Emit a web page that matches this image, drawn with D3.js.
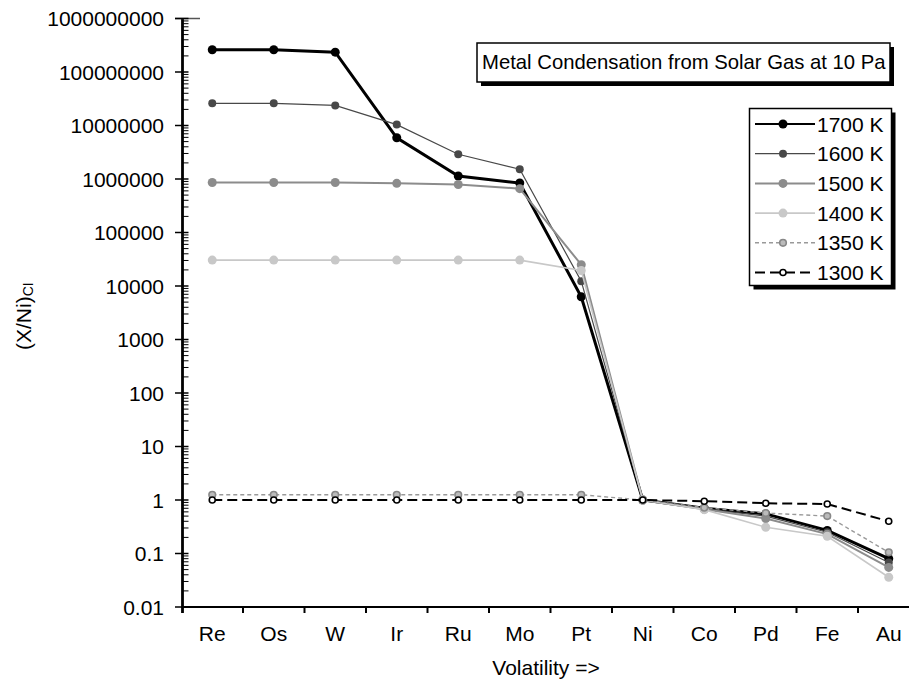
<!DOCTYPE html>
<html lang="en">
<head>
    <meta charset="UTF-8">
    <title>metal condensation</title>
    <script src="https://d3js.org/d3.v7.min.js"></script>
<style>
    body{ margin:0; background:#fff; }
    text{ font-family: "Liberation Sans", Arial, sans-serif; font-size: 21px; fill:#000; }
    .title{ font-size: 20.3px; }
</style>
</head>
<body>
<div id="fig"></div>
<script>
    // data
    let metals = ["Re","Os","W","Ir","Ru","Mo","Pt","Ni","Co","Pd","Fe","Au"]
    let temps = ["1700 K","1600 K","1500 K","1400 K","1350 K","1300 K"]
    let t1700 = [2.6e8, 2.6e8, 2.35e8, 5.9e6, 1.14e6, 8.4e5, 6.3e3, 1, 0.70, 0.55, 0.27, 0.080]
    let t1600 = [2.6e7, 2.6e7, 2.37e7, 1.04e7, 2.9e6, 1.52e6, 1.23e4, 1, 0.68, 0.50, 0.25, 0.068]
    let t1500 = [8.6e5, 8.6e5, 8.6e5, 8.3e5, 7.9e5, 6.6e5, 2.5e4, 1, 0.67, 0.45, 0.23, 0.055]
    let t1400 = [3.05e4, 3.05e4, 3.05e4, 3.05e4, 3.05e4, 3.05e4, 1.95e4, 1, 0.66, 0.31, 0.21, 0.036]
    let t1350 = [1.25, 1.25, 1.25, 1.25, 1.25, 1.25, 1.25, 1, 0.72, 0.57, 0.50, 0.105]
    let t1300 = [1, 1, 1, 1, 1, 1, 1, 1, 0.95, 0.87, 0.84, 0.40]
    let yTicks = [0.01, 0.1, 1, 10, 100, 1000, 10000, 100000, 1000000, 10000000, 100000000, 1000000000]

    let series = [t1700, t1600, t1500, t1400, t1350, t1300]
    let styles = [
        {stroke:"#000", width:3, dash:null, r:4.5, fill:"#000", mstroke:"#000", mw:0},
        {stroke:"#484848", width:1.2, dash:null, r:4, fill:"#484848", mstroke:"#484848", mw:0},
        {stroke:"#8c8c8c", width:2, dash:null, r:4.5, fill:"#8c8c8c", mstroke:"#8c8c8c", mw:0},
        {stroke:"#c8c8c8", width:1.6, dash:null, r:4.5, fill:"#c8c8c8", mstroke:"#c8c8c8", mw:0},
        {stroke:"#999", width:1.4, dash:"4,3", r:3.3, fill:"#bbb", mstroke:"#888", mw:1.6},
        {stroke:"#000", width:2, dash:"10,5", r:3, fill:"#fff", mstroke:"#000", mw:1.6}
    ]

    let W = 909, H = 685
    let svg = d3.select("#fig").append("svg").attr("width", W).attr("height", H)

    let left = 181.5, band = 61.5, axisY = 607
    let x = d3.scaleBand().domain(metals).range([left, left + band*metals.length]).padding(0)
    let y = d3.scaleLog().domain([0.01, 1e9]).range([axisY, 18.5])

    // y axis
    let gy = svg.append("g")
    gy.append("line").attr("x1", left+1).attr("x2", left+1).attr("y1", y(1e9)).attr("y2", axisY+6)
        .attr("stroke", "#000").attr("stroke-width", 2.8)
    gy.append("line").attr("x1", 175).attr("x2", 200).attr("y1", y(1e9)).attr("y2", y(1e9))
        .attr("stroke", "#555").attr("stroke-width", 1.5)
    yTicks.forEach(function (t){
        gy.append("line").attr("x1", 175).attr("x2", 188.5).attr("y1", y(t)).attr("y2", y(t))
            .attr("stroke", "#000").attr("stroke-width", 1.5)
        gy.append("text").attr("x", 164).attr("y", y(t)).attr("dy", "0.36em")
            .attr("text-anchor", "end").text(String(t))
        if (t < 1e9) {
            for (let k = 2; k < 10; k++) {
                gy.append("line").attr("x1", left+1).attr("x2", 188.5).attr("y1", y(t*k)).attr("y2", y(t*k))
                    .attr("stroke", "#000").attr("stroke-width", 1)
            }
        }
    })

    // x axis
    let gx = svg.append("g")
    gx.append("line").attr("x1", left).attr("x2", W).attr("y1", axisY).attr("y2", axisY)
        .attr("stroke", "#000").attr("stroke-width", 2.2)
    metals.forEach(function (m, i){
        let x0 = x(m)
        gx.append("line").attr("x1", x0+band).attr("x2", x0+band).attr("y1", axisY).attr("y2", axisY+6)
            .attr("stroke", "#000").attr("stroke-width", 2)
        gx.append("text").attr("x", x0 + band/2).attr("y", 641).attr("text-anchor", "middle").text(m)
    })

    svg.append("text").attr("x", 546).attr("y", 674.5).attr("text-anchor", "middle").text("Volatility =>")

    let yl = svg.append("text").attr("transform", "translate(31,350) rotate(-90)").attr("text-anchor", "start")
    yl.append("tspan").text("(X/Ni)")
    yl.append("tspan").attr("dy", 2).style("font-size", "14px").text("CI")

    // lines
    let line = d3.line()
        .x(function (d, i){ return x(metals[i]) + band/2 })
        .y(function (d){ return y(d) })

    series.forEach(function (s, si){
        let st = styles[si]
        let g = svg.append("g")
        g.append("path").datum(s).attr("d", line).attr("fill", "none")
            .attr("stroke", st.stroke).attr("stroke-width", st.width)
            .attr("stroke-dasharray", st.dash)
        g.selectAll("circle").data(s).enter().append("circle")
            .attr("cx", function (d, i){ return x(metals[i]) + band/2 })
            .attr("cy", function (d){ return y(d) })
            .attr("r", st.r).attr("fill", st.fill)
            .attr("stroke", st.mstroke).attr("stroke-width", st.mw)
    })

    // title box
    let tb = svg.append("g")
    tb.append("rect").attr("x", 481).attr("y", 47).attr("width", 413).attr("height", 39).attr("fill", "#000")
    tb.append("rect").attr("x", 477).attr("y", 43).attr("width", 413).attr("height", 39)
        .attr("fill", "#fff").attr("stroke", "#000").attr("stroke-width", 1.5)
    tb.append("text").attr("class", "title").attr("x", 482).attr("y", 69).text("Metal Condensation from Solar Gas at 10 Pa")

    // legend
    let lg = svg.append("g")
    lg.append("rect").attr("x", 753.5).attr("y", 112.5).attr("width", 142).attr("height", 177).attr("fill", "#000")
    lg.append("rect").attr("x", 749.5).attr("y", 108.5).attr("width", 142).attr("height", 177)
        .attr("fill", "#fff").attr("stroke", "#000").attr("stroke-width", 1.5)
    temps.forEach(function (t, i){
        let st = styles[i]
        let cy = 124 + i*29.7
        lg.append("line").attr("x1", 755).attr("x2", 815).attr("y1", cy).attr("y2", cy)
            .attr("stroke", st.stroke).attr("stroke-width", Math.min(st.width, 2))
            .attr("stroke-dasharray", st.dash)
        lg.append("circle").attr("cx", 783).attr("cy", cy).attr("r", st.r)
            .attr("fill", st.fill).attr("stroke", st.mstroke).attr("stroke-width", st.mw)
        lg.append("text").attr("x", 817).attr("y", cy).attr("dy", "0.36em").text(t)
    })
</script>
</body>
</html>
